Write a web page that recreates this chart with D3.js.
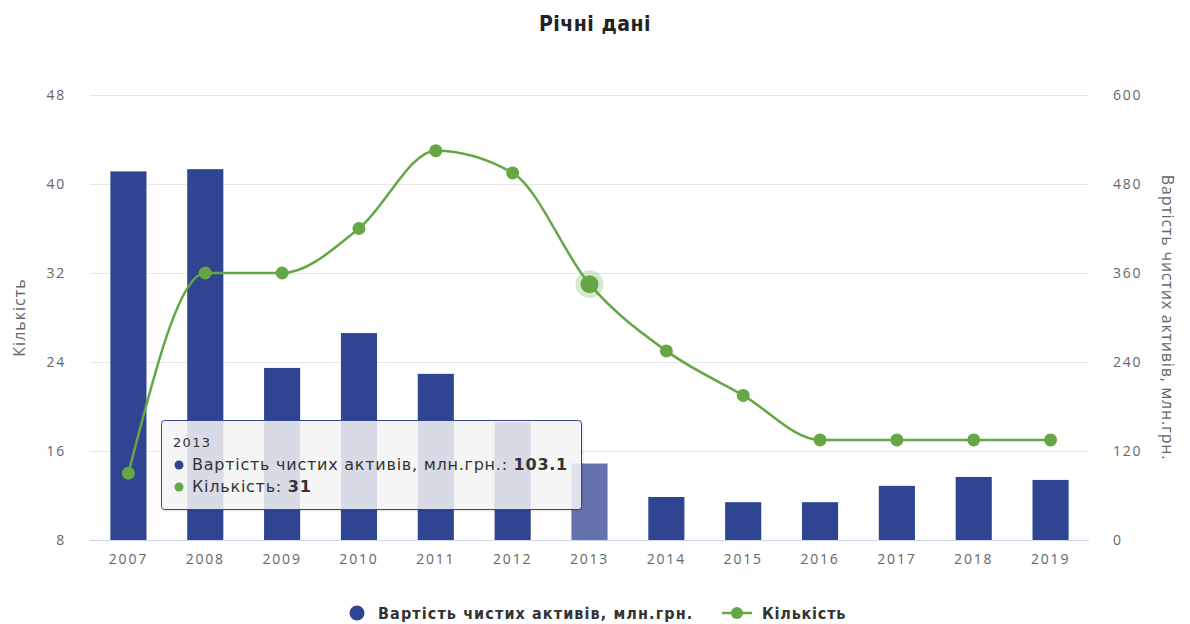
<html>
<head>
<meta charset="utf-8">
<script src="https://cdnjs.cloudflare.com/ajax/libs/d3/7.8.5/d3.min.js"></script>
<style>
  body { margin: 0; background: #fff; }
  #chart text { font-family: "Open Sans", sans-serif; }
</style>
</head>
<body>
<div id="chart"></div>
<script>
  // data
  var years = ["2007","2008","2009","2010","2011","2012","2013","2014","2015","2016","2017","2018","2019"];
  var assets = [497, 500, 232, 279, 224, 159, 103.1, 58, 51, 51, 73, 85, 81];   // Вартість чистих активів
  var counts = [14, 32, 32, 36, 43, 41, 31, 25, 21, 17, 17, 17, 17];          // Кількість
  var leftTicks = [8, 16, 24, 32, 40, 48];
  var rightTicks = [0, 120, 240, 360, 480, 600];
  var hoverIndex = 6;

  var W = 1190, H = 624;
  var plot = {left: 90, right: 1089, top: 95, bottom: 540};
  var blue = "#2f4592", blueHover = "#6572ad", green = "#64a744";

  var svg = d3.select("#chart").append("svg").attr("width", W).attr("height", H);

  var x = d3.scaleBand().domain(years).range([plot.left, plot.right]).padding(0);
  var yLeft = d3.scaleLinear().domain([8, 48]).range([plot.bottom, plot.top]);
  var yRight = d3.scaleLinear().domain([0, 600]).range([plot.bottom, plot.top]);
  var barW = x.bandwidth() * 0.47;

  // title
  svg.append("text")
    .attr("x", W / 2).attr("y", 31)
    .attr("text-anchor", "middle")
    .style("font-family", "'DejaVu Sans Condensed', sans-serif")
    .style("font-weight", "bold")
    .style("font-size", "21px")
    .style("letter-spacing", "0.5px")
    .style("fill", "#222")
    .text("Річні дані");

  // grid lines
  svg.append("g").selectAll("line")
    .data(leftTicks.slice(1))
    .enter().append("line")
    .attr("x1", plot.left).attr("x2", plot.right)
    .attr("y1", function(d) { return Math.round(yLeft(d)) + 0.5; })
    .attr("y2", function(d) { return Math.round(yLeft(d)) + 0.5; })
    .style("stroke", "#e6e6e6");

  // left ticks
  var leftAxis = svg.append("g")
    .attr("transform", "translate(" + (plot.left - 24) + ",0)")
    .call(d3.axisLeft(yLeft).tickValues(leftTicks).tickSize(0).tickPadding(0));
  leftAxis.select(".domain").remove();
  leftAxis.selectAll("text").style("font-size", "14px").style("fill", "#666").style("letter-spacing", "1.8px");

  // right ticks
  var rightAxis = svg.append("g")
    .attr("transform", "translate(" + (plot.right + 24) + ",0)")
    .call(d3.axisRight(yRight).tickValues(rightTicks).tickSize(0).tickPadding(0));
  rightAxis.select(".domain").remove();
  rightAxis.selectAll("text").style("font-size", "14px").style("fill", "#666").style("letter-spacing", "1.8px");

  // axis titles
  svg.append("text")
    .attr("transform", "translate(25," + ((plot.top + plot.bottom) / 2) + ") rotate(-90)")
    .attr("text-anchor", "middle")
    .style("font-size", "16px").style("fill", "#666").style("letter-spacing", "1px")
    .text("Кількість");
  svg.append("text")
    .attr("transform", "translate(1162," + ((plot.top + plot.bottom) / 2) + ") rotate(90)")
    .attr("text-anchor", "middle")
    .style("font-size", "16px").style("fill", "#666").style("letter-spacing", "0.8px")
    .text("Вартість чистих активів, млн.грн.");

  // bars
  svg.append("g").selectAll("rect")
    .data(assets)
    .enter().append("rect")
    .attr("x", function(d, i) { return x(years[i]) + (x.bandwidth() - barW) / 2; })
    .attr("width", barW)
    .attr("y", function(d) { return yRight(d); })
    .attr("height", function(d) { return plot.bottom - yRight(d); })
    .style("fill", function(d, i) { return i === hoverIndex ? blueHover : blue; });

  // x axis
  var xAxis = svg.append("g")
    .attr("transform", "translate(0," + plot.bottom + ")")
    .call(d3.axisBottom(x).tickSize(0).tickPadding(14));
  xAxis.select(".domain").style("stroke", "#ccd6eb").attr("d", "M" + plot.left + ",0.5H" + plot.right);
  xAxis.selectAll("text").style("font-size", "14px").style("fill", "#666").style("letter-spacing", "1.8px");

  // line
  var line = d3.line()
    .x(function(d, i) { return x(years[i]) + x.bandwidth() / 2; })
    .y(function(d) { return yLeft(d); })
    .curve(d3.curveMonotoneX);
  svg.append("path")
    .datum(counts)
    .attr("d", line)
    .style("fill", "none")
    .style("stroke", green)
    .style("stroke-width", 2.5);

  // hover halo
  svg.append("circle")
    .attr("cx", x(years[hoverIndex]) + x.bandwidth() / 2)
    .attr("cy", yLeft(counts[hoverIndex]))
    .attr("r", 14)
    .style("fill", green).style("opacity", 0.25);

  svg.append("g").selectAll("circle")
    .data(counts)
    .enter().append("circle")
    .attr("cx", function(d, i) { return x(years[i]) + x.bandwidth() / 2; })
    .attr("cy", function(d) { return yLeft(d); })
    .attr("r", function(d, i) { return i === hoverIndex ? 9 : 6.5; })
    .style("fill", green);

  // legend
  var legend = svg.append("g").attr("transform", "translate(0,613)");
  legend.append("circle").attr("cx", 357).attr("cy", 0).attr("r", 7.5).style("fill", blue);
  legend.append("text").attr("x", 378).attr("y", 6)
    .style("font-family", "'DejaVu Sans Condensed', sans-serif")
    .style("font-weight", "bold").style("font-size", "16px").style("letter-spacing", "1.1px").style("fill", "#333")
    .text("Вартість чистих активів, млн.грн.");
  legend.append("line").attr("x1", 722).attr("x2", 752).attr("y1", 0).attr("y2", 0)
    .style("stroke", green).style("stroke-width", 2.5);
  legend.append("circle").attr("cx", 737).attr("cy", 0).attr("r", 6).style("fill", green);
  legend.append("text").attr("x", 762).attr("y", 6)
    .style("font-family", "'DejaVu Sans Condensed', sans-serif")
    .style("font-weight", "bold").style("font-size", "16px").style("letter-spacing", "0.8px").style("fill", "#333")
    .text("Кількість");

  // tooltip
  var tip = svg.append("g").attr("transform", "translate(161,420)");
  tip.append("rect")
    .attr("x", 1.5).attr("y", 1.5).attr("width", 421).attr("height", 90).attr("rx", 3)
    .style("fill", "#000").style("opacity", 0.08);
  tip.append("rect")
    .attr("x", 0.5).attr("y", 0.5).attr("width", 420).attr("height", 89).attr("rx", 3)
    .style("fill", "rgba(247,247,247,0.85)")
    .style("stroke", "#2f4592").style("stroke-width", 1);
  tip.append("text").attr("x", 12).attr("y", 27)
    .style("font-family", "'DejaVu Sans', sans-serif")
    .style("font-size", "13px").style("fill", "#333").style("letter-spacing", "1.3px")
    .text(years[hoverIndex]);
  var rows = [
    {name: "Вартість чистих активів, млн.грн.: ", value: assets[hoverIndex], color: blue, y: 50},
    {name: "Кількість: ", value: counts[hoverIndex], color: green, y: 72}
  ];
  rows.forEach(function(r) {
    tip.append("circle").attr("cx", 18).attr("cy", r.y - 5).attr("r", 4.5).style("fill", r.color);
    var t = tip.append("text").attr("x", 31).attr("y", r.y)
      .style("font-family", "'DejaVu Sans', sans-serif")
      .style("font-size", "16px").style("fill", "#333").style("letter-spacing", "0.75px");
    t.append("tspan").text(r.name);
    t.append("tspan").style("font-weight", "bold").text(r.value);
  });
</script>
</body>
</html>
